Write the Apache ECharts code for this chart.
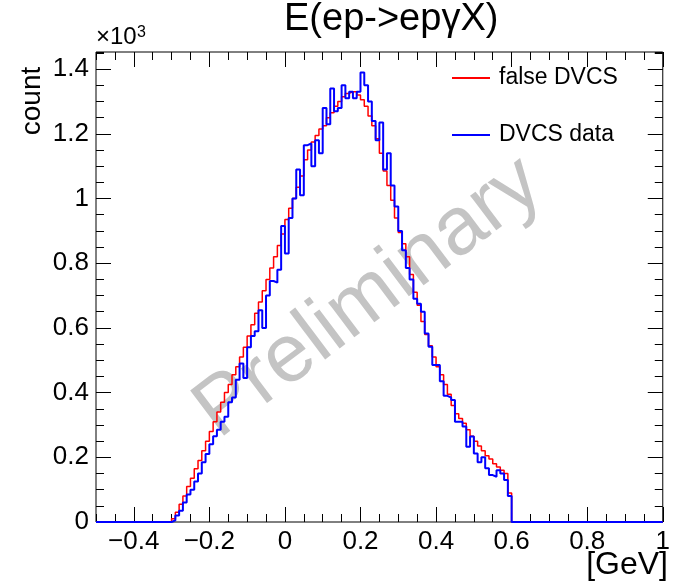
<!DOCTYPE html>
<html>
<head>
<meta charset="utf-8">
<script src="https://cdn.jsdelivr.net/npm/echarts@6/dist/echarts.min.js"></script>
<style>
  html, body { margin: 0; padding: 0; background: #fff; }
  #chart { width: 673px; height: 586px; }
</style>
</head>
<body>
<div id="chart"></div>
<script>
// Axis ranges (x in GeV, y in counts)
const xMin = -0.5, xMax = 1.0;
const yMin = 0, yMax = 1453;

// Histogram binning: 90 bins of 0.01 GeV starting at -0.3 GeV
const binStart = -0.3;
const binWidth = 0.01;

// Bin contents, "false DVCS" sample
const falseDvcs = [
  10, 30, 55, 80, 110, 135, 165, 190, 220, 250,
  280, 310, 340, 370, 400, 425, 455, 480, 510, 540,
  575, 610, 645, 680, 715, 750, 785, 820, 855, 890,
  935, 970, 1000, 1035, 1070, 1120, 1150, 1175, 1195, 1215,
  1225, 1250, 1265, 1285, 1300, 1315, 1325, 1330, 1330, 1320,
  1305, 1285, 1255, 1225, 1185, 1140, 1085, 1040, 995, 940,
  895, 860, 820, 765, 710, 670, 620, 580, 545, 510,
  480, 455, 425, 395, 360, 335, 320, 305, 285, 265,
  250, 235, 220, 205, 195, 180, 170, 160, 150, 90
];

// Bin contents, "DVCS data" sample
const dvcsData = [
  5, 20, 35, 60, 85, 100, 125, 150, 185, 210,
  240, 265, 285, 310, 325, 370, 385, 440, 490, 445,
  540, 575, 590, 655, 600, 700, 745, 740, 780, 915,
  830, 940, 1000, 1090, 1010, 1165, 1170, 1100, 1180, 1140,
  1280, 1230, 1340, 1270, 1280, 1350, 1310, 1330, 1310, 1330,
  1390, 1350, 1300, 1240, 1180, 1235, 1090, 1140, 1040, 975,
  900, 840, 785, 750, 690, 675, 650, 583, 542, 485,
  485, 435, 390, 385, 377, 310, 310, 295, 233, 264,
  212, 185, 200, 166, 145, 140, 160, 150, 130, 80
];

// Labelled tick positions
const xMajorTicks = [-0.4, -0.2, 0, 0.2, 0.4, 0.6, 0.8, 1];
const yMajorTicks = [0, 200, 400, 600, 800, 1000, 1200, 1400];
const seriesNames = ['false DVCS', 'DVCS data'];
const FONT = '"Liberation Sans", Arial, Helvetica, sans-serif';

// Turn bin contents into step-line vertices (left bin edges), closed to zero
function histPoints(values) {
  const pts = [[xMin, 0]];
  values.forEach(function (v, i) {
    pts.push([+(binStart + i * binWidth).toFixed(4), v]);
  });
  pts.push([+(binStart + values.length * binWidth).toFixed(4), 0]);
  pts.push([xMax, 0]);
  return pts;
}

function xMinorAxis(position) {
  return {
    type: 'value', position: position, min: xMin, max: xMax, interval: 0.05,
    axisLine: { show: false, onZero: false },
    axisTick: { show: true, inside: true, length: 8, lineStyle: { color: '#000', width: 1 } },
    axisLabel: { show: false },
    splitLine: { show: false }
  };
}
function xMajorAxis(position, withLabels) {
  return {
    type: 'value', position: position, min: xMin, max: xMax,
    axisLine: { show: false, onZero: false },
    axisTick: { show: true, inside: true, length: 15, customValues: xMajorTicks,
                lineStyle: { color: '#000', width: 1 } },
    axisLabel: {
      show: withLabels, customValues: xMajorTicks, margin: 7,
      fontSize: 26, fontFamily: FONT, color: '#000',
      formatter: function (v) { return String(Math.round(v * 10) / 10).replace('-', '\u2212'); }
    },
    splitLine: { show: false }
  };
}
function yMinorAxis(position) {
  return {
    type: 'value', position: position, min: yMin, max: yMax, interval: 50,
    axisLine: { show: false, onZero: false },
    axisTick: { show: true, inside: true, length: 8, lineStyle: { color: '#000', width: 1 } },
    axisLabel: { show: false },
    splitLine: { show: false }
  };
}
function yMajorAxis(position, withLabels) {
  return {
    type: 'value', position: position, min: yMin, max: yMax,
    axisLine: { show: false, onZero: false },
    axisTick: { show: true, inside: true, length: 15, customValues: yMajorTicks,
                lineStyle: { color: '#000', width: 1 } },
    axisLabel: {
      show: withLabels, customValues: yMajorTicks, margin: 7,
      fontSize: 26, fontFamily: FONT, color: '#000',
      formatter: function (v) { return String(v / 1000); }
    },
    splitLine: { show: false }
  };
}

const chart = echarts.init(document.getElementById('chart'), null, { renderer: 'canvas' });

chart.setOption({
  animation: false,
  backgroundColor: '#fff',
  title: {
    text: 'E(ep->ep\u03b3X)',
    left: 284, top: 1, padding: 0,
    textStyle: { fontSize: 38, fontWeight: 'normal', fontFamily: FONT, color: '#000' }
  },
  grid: {
    left: 96, right: 5, top: 52, bottom: 64,
    containLabel: false,
    show: true, borderColor: '#000', borderWidth: 1, backgroundColor: 'transparent'
  },
  legend: {
    orient: 'vertical', left: 452, top: 66, padding: 0,
    itemWidth: 38, itemHeight: 2, itemGap: 33, icon: 'rect',
    textStyle: { fontSize: 23, fontFamily: FONT, color: '#000', lineHeight: 24, padding: [0, 0, 0, 4] },
    data: seriesNames
  },
  xAxis: [xMinorAxis('bottom'), xMajorAxis('bottom', true), xMinorAxis('top'), xMajorAxis('top', false)],
  yAxis: [yMinorAxis('left'), yMajorAxis('left', true), yMinorAxis('right'), yMajorAxis('right', false)],
  series: [
    {
      name: seriesNames[0], type: 'line', step: 'end', symbol: 'none', clip: false,
      xAxisIndex: 0, yAxisIndex: 0,
      lineStyle: { color: '#ff0000', width: 1.5 }, itemStyle: { color: '#ff0000' },
      data: histPoints(falseDvcs), z: 3
    },
    {
      name: seriesNames[1], type: 'line', step: 'end', symbol: 'none', clip: false,
      xAxisIndex: 0, yAxisIndex: 0,
      lineStyle: { color: '#0000ff', width: 2 }, itemStyle: { color: '#0000ff' },
      data: histPoints(dvcsData), z: 4
    }
  ],
  graphic: [
    {
      type: 'text', x: 369, y: 298, rotation: 37 * Math.PI / 180, z: 0,
      style: { text: 'Preliminary', fontSize: 82, fontFamily: FONT, fill: '#c4c4c4',
               align: 'center', verticalAlign: 'middle', textAlign: 'center', textVerticalAlign: 'middle' }
    },
    {
      type: 'text', x: 96, y: 49, z: 5,
      style: { text: '\u00d710', fontSize: 24, fontFamily: FONT, fill: '#000',
               align: 'left', verticalAlign: 'bottom', textAlign: 'left', textVerticalAlign: 'bottom' }
    },
    {
      type: 'text', x: 137, y: 25, z: 5,
      style: { text: '3', fontSize: 16, fontFamily: FONT, fill: '#000',
               align: 'left', verticalAlign: 'top', textAlign: 'left', textVerticalAlign: 'top' }
    },
    {
      type: 'text', x: 32, y: 101, rotation: Math.PI / 2, z: 5,
      style: { text: 'count', fontSize: 28, fontFamily: FONT, fill: '#000',
               align: 'center', verticalAlign: 'middle', textAlign: 'center', textVerticalAlign: 'middle' }
    },
    {
      type: 'text', x: 668, y: 565, z: 5,
      style: { text: '[GeV]', fontSize: 32, fontFamily: FONT, fill: '#000',
               align: 'right', verticalAlign: 'middle', textAlign: 'right', textVerticalAlign: 'middle' }
    }
  ]
});
</script>
</body>
</html>
